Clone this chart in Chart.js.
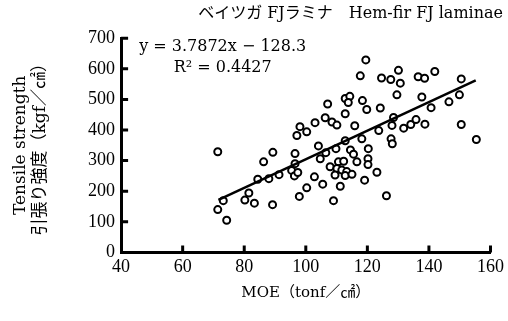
<!DOCTYPE html>
<html lang="ja">
<head>
    <meta charset="UTF-8">
    <title>Hem-fir FJ laminae</title>
    <style>
      body { margin:0; background:#ffffff; }
      canvas { display:block; }
    </style>
    <script src="https://cdn.jsdelivr.net/npm/chart.js@4.4.1/dist/chart.umd.min.js"></script>
</head>

<body>
    <canvas id="moe_chart" width="508" height="321"></canvas>
    <script>
        // MOE (tonf/cm2) and tensile strength (kgf/cm2)
        var moe = [71.4, 89.3, 86.3, 71.4, 73.2, 74.3, 80.2, 81.5, 83.3, 89.2,
                   84.4, 88.0, 91.3, 95.4, 96.3, 97.4, 96.5, 96.5, 97.1, 98.1,
                   100.3, 103.0, 106.3, 108.5, 110.1, 112.8, 115.9, 119.8, 124.2, 123.7,
                   128.0, 128.5, 127.7, 128.1, 118.2, 112.8, 104.1, 106.5, 109.8, 114.5,
                   115.5, 120.3, 120.2, 120.2, 116.6, 104.7, 110.6, 112.3, 107.9, 110.1,
                   111.7, 113.3, 109.5, 112.8, 115.0, 102.8, 105.5, 111.2, 100.3, 97.9,
                   109.0, 119.1, 123.1, 126.2, 119.5, 117.7, 124.6, 127.6, 130.7, 130.1,
                   136.5, 138.6, 141.9, 150.5, 129.6, 137.7, 140.7, 146.5, 149.9, 131.8,
                   134.1, 135.8, 138.7, 150.5, 155.4, 107.1, 112.8, 114.3, 113.8, 118.4];
        var strength = [329, 327, 296, 140, 169, 105, 171, 194, 161, 156,
                        239, 241, 254, 268, 250, 261, 323, 290, 382, 411,
                        394, 424, 440, 426, 416, 453, 414, 467, 472, 398,
                        415, 441, 371, 355, 371, 365, 348, 326, 339, 335,
                        321, 339, 306, 287, 296, 306, 296, 298, 280, 274,
                        269, 264, 253, 251, 255, 247, 223, 216, 211, 183,
                        169, 236, 262, 185, 629, 577, 570, 565, 553, 595,
                        574, 569, 591, 567, 515, 508, 473, 492, 515, 406,
                        418, 434, 419, 418, 369, 485, 503, 510, 490, 496];

        // regression line as printed in the figure
        var fitMoe = [71.6, 155.2];
        var fitStrength = [172, 562];
        var eqText = 'y = 3.7872x − 128.3';
        var r2Text = 'R² = 0.4427';

        var xTicks = [40, 60, 80, 100, 120, 140, 160];
        var yTicks = [0, 100, 200, 300, 400, 500, 600, 700];

        var titleText = 'ベイツガ FJラミナ　Hem-fir FJ laminae';
        var xTitle = 'MOE（tonf／㎠）';
        var yTitle = ['Tensile strength', '引張り強度（kgf／㎠）'];

        var serif = "'DejaVu Serif', 'Noto Sans CJK JP', serif";

        // ticks drawn inward + regression text
        var innerTicks = {
          id: 'innerTicks',
          afterDraw: function(chart) {
            var ctx = chart.ctx;
            var xs = chart.scales.x, ys = chart.scales.y;
            var area = chart.chartArea;
            ctx.save();
            ctx.strokeStyle = '#000';
            ctx.lineWidth = 3;
            ctx.beginPath();
            xTicks.forEach(function(v) {
              if (v === xs.min) return;
              var px = xs.getPixelForValue(v);
              ctx.moveTo(px, area.bottom);
              ctx.lineTo(px, area.bottom - 7);
            });
            yTicks.forEach(function(v) {
              if (v === ys.min) return;
              var py = ys.getPixelForValue(v);
              ctx.moveTo(area.left, py);
              ctx.lineTo(area.left + 7, py);
            });
            ctx.stroke();

            ctx.fillStyle = '#000';
            ctx.font = "16px " + serif;
            ctx.textAlign = 'center';
            ctx.textBaseline = 'middle';
            ctx.fillText(eqText, xs.getPixelForValue(73), ys.getPixelForValue(671));
            ctx.fillText(r2Text, xs.getPixelForValue(73), ys.getPixelForValue(603));
            ctx.restore();
          }
        };

        var points = moe.map(function(x, i) { return {x: x, y: strength[i]}; });
        var fitLine = fitMoe.map(function(x, i) { return {x: x, y: fitStrength[i]}; });

        var ctx = document.getElementById('moe_chart').getContext('2d');
        var chart = new Chart(ctx, {
          type: 'scatter',
          data: {
            datasets: [{
              type: 'line',
              label: 'fit',
              data: fitLine,
              borderColor: '#000',
              borderWidth: 2.5,
              pointRadius: 0,
              fill: false
            }, {
              label: 'laminae',
              data: points,
              borderColor: '#000',
              backgroundColor: '#fff',
              borderWidth: 2,
              pointRadius: 3.5
            }]
          },
          options: {
            responsive: false,
            animation: false,
            devicePixelRatio: 1,
            layout: { padding: { left: 0, right: 5, top: 0, bottom: 0 } },
            plugins: {
              legend: { display: false },
              tooltip: { enabled: false },
              title: {
                display: true,
                text: titleText,
                align: 'end',
                color: '#000',
                font: { family: serif, size: 16, weight: 'normal' },
                padding: { top: 4, bottom: 15 }
              }
            },
            scales: {
              x: {
                type: 'linear',
                min: 40,
                max: 160,
                afterBuildTicks: function(axis) { axis.ticks = xTicks.map(function(v) { return {value: v}; }); },
                grid: { display: false, drawTicks: false },
                border: { display: true, color: '#000', width: 3 },
                ticks: {
                  color: '#000',
                  padding: 4,
                  font: { family: "'Liberation Serif', serif", size: 18 }
                },
                title: {
                  display: true,
                  text: xTitle,
                  color: '#000',
                  font: { family: serif, size: 15 },
                  padding: { top: 2, bottom: 19 }
                }
              },
              y: {
                type: 'linear',
                min: 0,
                max: 700,
                afterBuildTicks: function(axis) { axis.ticks = yTicks.map(function(v) { return {value: v}; }); },
                grid: { display: false, drawTicks: false },
                border: { display: true, color: '#000', width: 3 },
                ticks: {
                  color: '#000',
                  padding: 6,
                  font: { family: "'Liberation Serif', serif", size: 18 }
                },
                title: {
                  display: true,
                  text: yTitle,
                  color: '#000',
                  font: { family: serif, size: 17, lineHeight: 1.15 },
                  padding: { top: 11, bottom: 32 }
                }
              }
            }
          },
          plugins: [innerTicks]
        });
    </script>
</body>

</html>
